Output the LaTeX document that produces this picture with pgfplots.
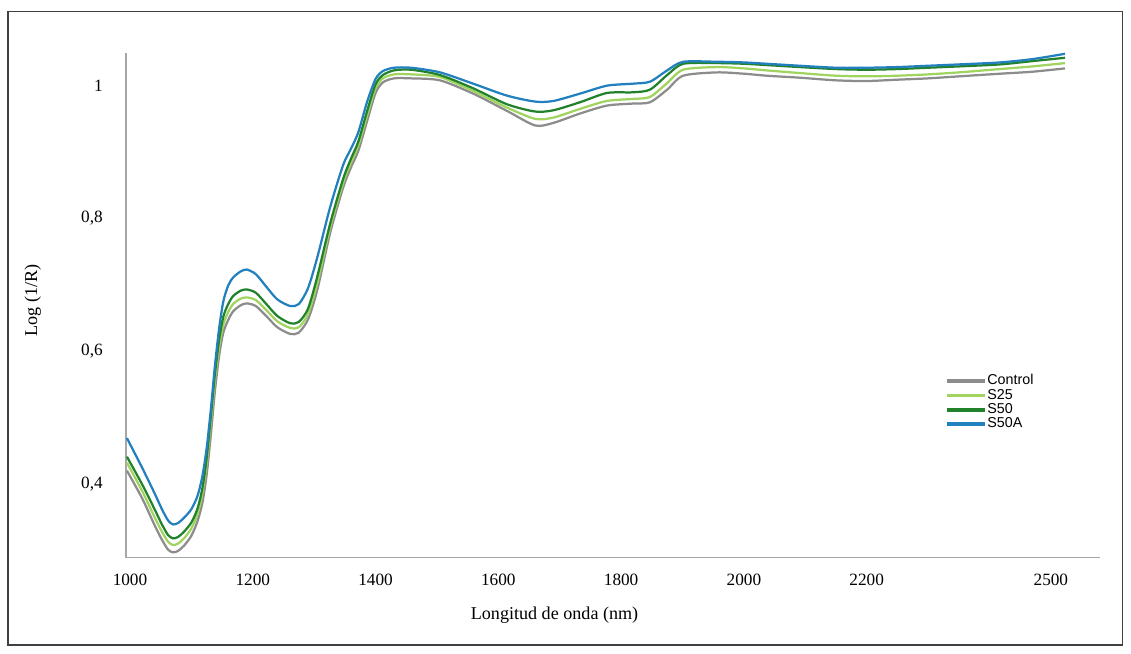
\documentclass[border=0pt]{standalone}
\usepackage{fontspec}
\setmainfont{Liberation Serif}
\newfontfamily\legfont{Liberation Sans}
\usepackage{pgfplots}
\usepackage{pgfplotstable}
\pgfplotsset{compat=1.18}

\definecolor{cctrl}{RGB}{140,140,140}
\definecolor{cs25}{RGB}{160,212,95}
\definecolor{cs50}{RGB}{34,130,44}
\definecolor{cs50a}{RGB}{35,128,190}

% Log(1/R), one column per sample
\pgfplotstableread{
x     blue   s50    s25    ctrl
995   0.469  0.441  0.432  0.420
1020  0.424  0.399  0.389  0.378
1040  0.386  0.362  0.350  0.338
1052  0.362  0.339  0.328  0.316
1062  0.345  0.323  0.313  0.301
1070  0.339  0.318  0.308  0.297
1078  0.341  0.320  0.310  0.299
1088  0.349  0.328  0.318  0.307
1100  0.362  0.342  0.333  0.322
1110  0.382  0.363  0.355  0.344
1118  0.412  0.394  0.386  0.372
1125  0.455  0.440  0.431  0.415
1132  0.515  0.505  0.495  0.477
1138  0.575  0.563  0.553  0.537
1145  0.633  0.616  0.605  0.592
1152  0.675  0.652  0.640  0.628
1160  0.699  0.671  0.659  0.647
1168  0.711  0.683  0.671  0.660
1180  0.720  0.691  0.679  0.669
1190  0.723  0.693  0.681  0.672
1205  0.716  0.688  0.677  0.668
1223  0.696  0.670  0.661  0.652
1240  0.678  0.653  0.645  0.636
1261  0.668  0.642  0.635  0.626
1275  0.671  0.644  0.636  0.628
1290  0.695  0.664  0.656  0.648
1305  0.741  0.712  0.702  0.692
1326  0.817  0.792  0.786  0.778
1347  0.880  0.859  0.853  0.846
1360  0.905  0.890  0.884  0.877
1372  0.930  0.916  0.910  0.902
1386  0.975  0.961  0.954  0.946
1400  1.010  1.002  0.996  0.989
1412  1.022  1.016  1.011  1.005
1430  1.027  1.023  1.017  1.011
1458  1.027  1.024  1.017  1.011
1505  1.020  1.016  1.013  1.008
1559  1.003  0.996  0.992  0.988
1614  0.985  0.972  0.967  0.962
1660  0.976  0.961  0.950  0.940
1690  0.977  0.963  0.952  0.944
1733  0.988  0.975  0.965  0.958
1777  1.000  0.989  0.977  0.970
1819  1.003  0.990  0.980  0.973
1847  1.006  0.994  0.983  0.975
1875  1.023  1.016  1.004  0.994
1901  1.036  1.033  1.024  1.015
1956  1.036  1.034  1.028  1.020
2000  1.035  1.033  1.026  1.018
2037  1.033  1.031  1.023  1.015
2091  1.030  1.028  1.019  1.012
2150  1.027  1.025  1.015  1.008
2200  1.027  1.024  1.014  1.007
2250  1.028  1.025  1.015  1.009
2300  1.030  1.027  1.017  1.011
2350  1.032  1.029  1.020  1.014
2417  1.035  1.032  1.025  1.018
2470  1.040  1.037  1.029  1.021
2523  1.048  1.042  1.034  1.026
}\spectra

\begin{document}
\begin{tikzpicture}
\begin{axis}[
    scale only axis,
    width=565pt, height=293pt,
    xmin=993.5, xmax=2580,
    ymin=0.2887, ymax=1.0496,
    axis x line*=bottom, axis y line*=left,
    axis line style={draw=black!35, line width=0.6pt},
    major tick length=0pt,
    xtick={1000,1200,1400,1600,1800,2000,2200,2500},
    ytick={0.4,0.6,0.8,1},
    /pgf/number format/assume math mode=true,
    /pgf/number format/use comma,
    /pgf/number format/1000 sep={},
    tick label style={font=\fontsize{10}{12}\selectfont},
    xticklabel style={yshift=-6pt},
    yticklabel style={xshift=-10pt},
    label style={font=\fontsize{10.5}{12}\selectfont},
    xlabel={Longitud de onda (nm)},
    xlabel style={at={(axis description cs:0.44,0)}, anchor=center, yshift=-33pt},
    ylabel={Log (1/R)},
    ylabel style={at={(axis description cs:-0.0956,0.51)}, anchor=center},
    legend style={at={(axis description cs:0.836,0.372)}, anchor=north west,
        draw=none, fill=none, font=\legfont\fontsize{8.3}{9}\selectfont,
        row sep=0pt, nodes={inner sep=0.5pt}},
    legend cell align=left,
    legend image code/.code={\draw[#1, line width=2pt] (0cm,0cm) -- (0.76cm,0cm);},
    every axis plot/.append style={line width=1.3pt, smooth, tension=0.45},
]
\addplot[cctrl] table[x=x, y=ctrl] {\spectra};
\addlegendentry{Control}
\addplot[cs25] table[x=x, y=s25] {\spectra};
\addlegendentry{S25}
\addplot[cs50] table[x=x, y=s50] {\spectra};
\addlegendentry{S50}
\addplot[cs50a] table[x=x, y=blue] {\spectra};
\addlegendentry{S50A}
\end{axis}
\draw[black!75, line width=0.9pt, shift={(current axis.south west)}] (-68.4pt,-50.5pt) rectangle (578pt,317pt);
\path[shift={(current axis.south west)}] (-73.1pt,-55.7pt) rectangle (583pt,323.6pt);
\end{tikzpicture}
\end{document}
